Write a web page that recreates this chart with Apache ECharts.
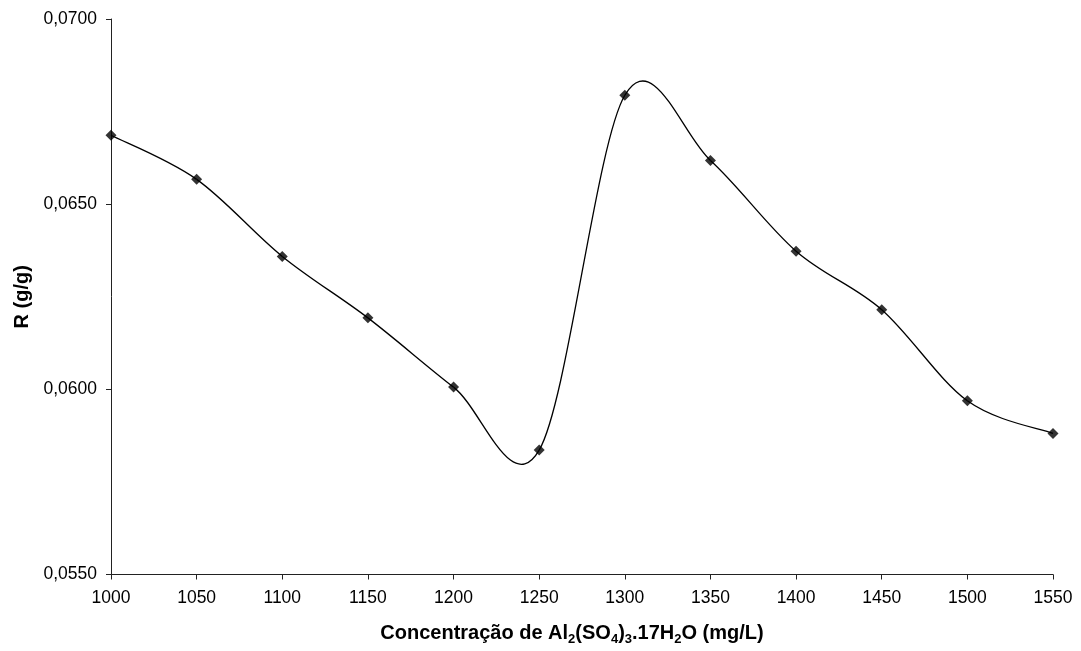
<!DOCTYPE html>
<html>
<head>
<meta charset="utf-8">
<script src="https://cdn.jsdelivr.net/npm/echarts@6/dist/echarts.min.js"></script>
<style>
html,body{margin:0;padding:0;background:#fff;}
#main{width:1081px;height:651px;}
</style>
</head>
<body>
<div id="main"></div>
<script>
var concentrations = [1000, 1050, 1100, 1150, 1200, 1250, 1300, 1350, 1400, 1450, 1500, 1550];
var rValues = [0.06686, 0.06567, 0.06359, 0.06193, 0.06006, 0.05836, 0.06794, 0.06618, 0.06373, 0.06215, 0.05969, 0.05881];
var xTitle = '{b|Concentração de Al}{s|2}{b|(SO}{s|4}{b|)}{s|3}{b|.17H}{s|2}{b|O (mg/L)}';
var yTitle = 'R (g/g)';

var points = concentrations.map(function (c, i) { return [c, rValues[i]]; });

var chart = echarts.init(document.getElementById('main'));
var FONT = '"Liberation Sans", Arial, sans-serif';

// Smoothed line (Catmull-Rom style Bezier, like a spreadsheet "smoothed line"),
// each segment drawn between data points converted through the chart's own axes.
function renderSegment(params, api) {
  var i = params.dataIndex;
  var n = points.length;
  if (i >= n - 1) return null;
  var p0 = api.coord(points[Math.max(i - 1, 0)]);
  var p1 = api.coord(points[i]);
  var p2 = api.coord(points[i + 1]);
  var p3 = api.coord(points[Math.min(i + 2, n - 1)]);
  var k = 1 / 6;
  var c1 = [p1[0] + (p2[0] - p0[0]) * k, p1[1] + (p2[1] - p0[1]) * k];
  var c2 = [p2[0] - (p3[0] - p1[0]) * k, p2[1] - (p3[1] - p1[1]) * k];
  return {
    type: 'bezierCurve',
    shape: {x1: p1[0], y1: p1[1], x2: p2[0], y2: p2[1],
            cpx1: c1[0], cpy1: c1[1], cpx2: c2[0], cpy2: c2[1]},
    style: {stroke: '#000', lineWidth: 1.3, fill: null}
  };
}

chart.setOption({
  animation: false,
  backgroundColor: '#ffffff',
  grid: {left: 111, right: 28, top: 19, bottom: 76, containLabel: false},
  xAxis: {
    type: 'value', min: 1000, max: 1550, interval: 50,
    name: xTitle, nameLocation: 'middle', nameGap: 49,
    nameTextStyle: {
      fontFamily: FONT, color: '#000', padding: [0, 20, 0, 0],
      rich: {
        b: {fontFamily: FONT, fontSize: 20, fontWeight: 'bold', color: '#000', lineHeight: 22, padding: [0, 0, 2, 0]},
        s: {fontFamily: FONT, fontSize: 13, fontWeight: 'bold', color: '#000', lineHeight: 14, padding: [10, 0, 0, 0]}
      }
    },
    axisLine: {show: true, onZero: false, lineStyle: {color: '#222', width: 1}},
    axisTick: {show: true, inside: false, length: 5, lineStyle: {color: '#222'}},
    axisLabel: {fontFamily: FONT, fontSize: 17.5, color: '#000', margin: 15,
      formatter: function (v) { return String(v); }},
    splitLine: {show: false}
  },
  yAxis: {
    type: 'value', min: 0.055, max: 0.070, interval: 0.005,
    name: yTitle, nameLocation: 'middle', nameGap: 79, nameRotate: 90,
    nameTextStyle: {fontFamily: FONT, fontSize: 20, fontWeight: 'bold', color: '#000'},
    axisLine: {show: true, onZero: false, lineStyle: {color: '#222', width: 1}},
    axisTick: {show: true, inside: false, length: 5, lineStyle: {color: '#222'}},
    axisLabel: {fontFamily: FONT, fontSize: 17.5, color: '#000', margin: 14,
      formatter: function (v) { return v.toFixed(4).replace('.', ','); }},
    splitLine: {show: false}
  },
  series: [{
    type: 'custom',
    data: points,
    renderItem: renderSegment,
    silent: true,
    z: 2
  }, {
    type: 'scatter',
    data: points,
    symbol: 'diamond', symbolSize: 11,
    itemStyle: {color: '#000'},
    z: 3
  }]
});
</script>
</body>
</html>
